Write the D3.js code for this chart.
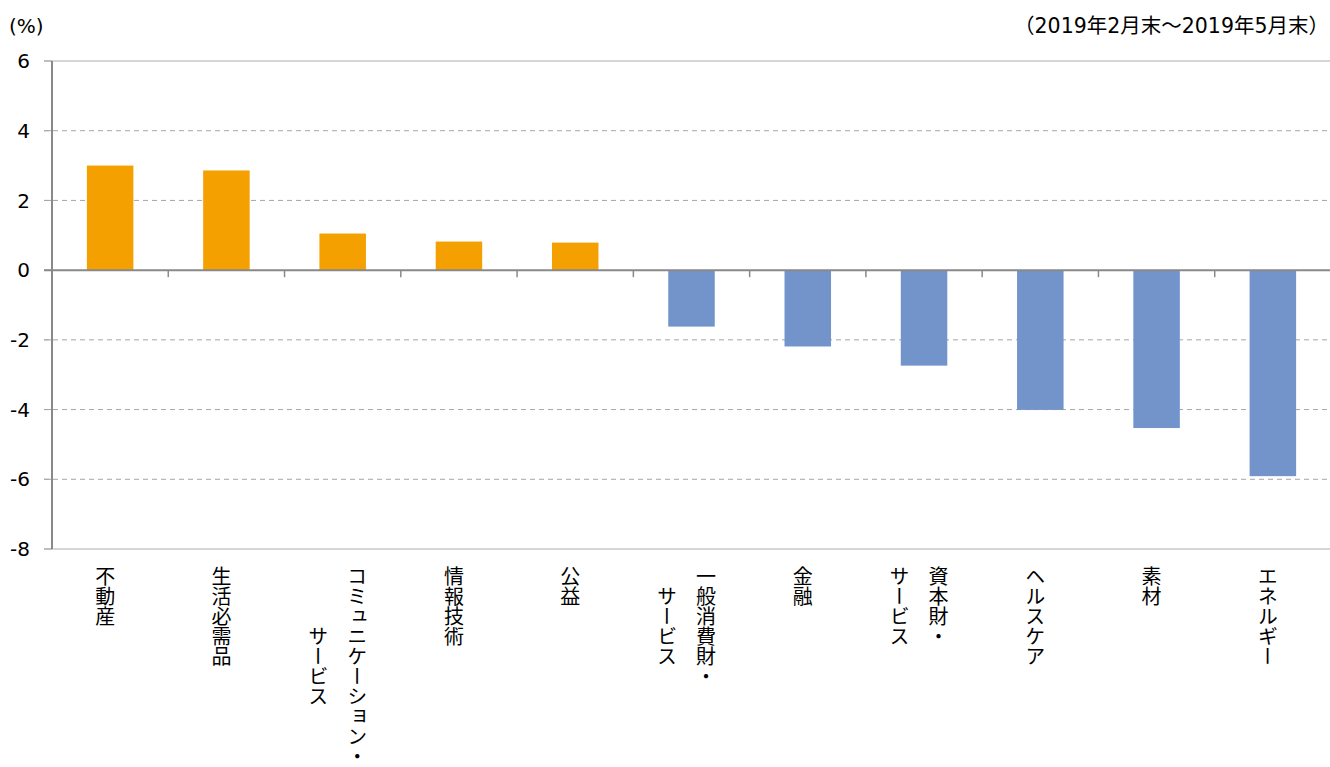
<!DOCTYPE html>
<html><head><meta charset="utf-8">
<script src="https://cdn.jsdelivr.net/npm/d3@7/dist/d3.min.js"></script>
<style>
html,body{margin:0;padding:0;background:#fff;}
svg{display:block;}
.vt{writing-mode:vertical-rl;font-family:"Noto Sans CJK JP",sans-serif;font-size:20px;fill:#000;}
</style></head>
<body><svg id="c" width="1330" height="767"></svg>
<script>
const categories = [
  ["不動産"],
  ["生活必需品"],
  ["コミュニケーション・","サービス"],
  ["情報技術"],
  ["公益"],
  ["一般消費財・","サービス"],
  ["金融"],
  ["資本財・","サービス"],
  ["ヘルスケア"],
  ["素材"],
  ["エネルギー"]
];
const values = [3.0, 2.86, 1.05, 0.82, 0.79, -1.62, -2.19, -2.74, -4.01, -4.53, -5.91];
const yTicks = [6, 4, 2, 0, -2, -4, -6, -8];
const unitLabel = "(%)";
const periodLabel = "（2019年2月末～2019年5月末）";

(function () {
const svg = d3.select("#c");
const pL = 52, pR = 1331, pT = 61, pB = 549;
const x = d3.scaleBand().domain(d3.range(categories.length)).range([pL, pR]).paddingInner(0.6).paddingOuter(0.3);
const xb = d3.scaleBand().domain(d3.range(categories.length)).range([pL, pR]);
const y = d3.scaleLinear().domain([-8, 6]).range([pB, pT]);

// gridlines
svg.append("g").selectAll("line").data(yTicks).join("line")
  .attr("x1", pL - 8).attr("x2", pR)
  .attr("y1", d => y(d)).attr("y2", d => y(d))
  .attr("stroke", d => (d === 6 || d === -8) ? "#c8c8c8" : (d === 0 ? "none" : "#a6a6a6"))
  .attr("stroke-width", d => (d === 6 || d === -8) ? 1.5 : 1)
  .attr("stroke-dasharray", d => (d === 6 || d === -8) ? null : "5,4");
svg.append("g").selectAll("line").data(yTicks).join("line")
  .attr("x1", pL - 8).attr("x2", pL)
  .attr("y1", d => y(d)).attr("y2", d => y(d))
  .attr("stroke", "#a6a6a6").attr("stroke-width", 1);

// y tick labels
svg.append("g").selectAll("text").data(yTicks).join("text")
  .attr("x", 30).attr("y", d => y(d)).attr("dy", "0.36em")
  .attr("text-anchor", "end")
  .attr("font-family", "DejaVu Sans, Verdana, sans-serif").attr("font-size", 20)
  .text(d => d);

// bars
svg.append("g").selectAll("rect").data(values).join("rect")
  .attr("x", (d, i) => x(i)).attr("width", x.bandwidth())
  .attr("y", d => y(Math.max(0, d))).attr("height", d => Math.abs(y(d) - y(0)))
  .attr("fill", d => d >= 0 ? "#f4a000" : "#7294cb");

// y axis line
svg.append("line").attr("x1", pL).attr("x2", pL).attr("y1", pT).attr("y2", pB)
  .attr("stroke", "#898989").attr("stroke-width", 2);
// zero line
svg.append("line").attr("x1", pL - 8).attr("x2", pR).attr("y1", y(0)).attr("y2", y(0))
  .attr("stroke", "#898989").attr("stroke-width", 2);
// category ticks
svg.append("g").selectAll("line").data(d3.range(1, categories.length)).join("line")
  .attr("x1", i => xb(i)).attr("x2", i => xb(i))
  .attr("y1", y(0)).attr("y2", y(0) + 7)
  .attr("stroke", "#898989").attr("stroke-width", 1.5);

// category labels (vertical)
const adv = 20, labelTop = 566, colGap = 39;
const lg = svg.append("g");
categories.forEach((lines, i) => {
  const cx = xb(i) + xb.bandwidth() / 2 - 5;
  const n = lines.length;
  const maxLen = d3.max(lines, l => l.length);
  lines.forEach((line, j) => {
    const colX = cx + ((n - 1) / 2 - j) * colGap;
    lg.append("text").attr("class", "vt")
      .attr("x", colX).attr("y", labelTop + maxLen * adv / 2)
      .attr("text-anchor", "middle")
      .text(line);
  });
});

// header texts
svg.append("text").attr("x", 9).attr("y", 33)
  .attr("font-family", "DejaVu Sans, Verdana, sans-serif").attr("font-size", 20)
  .text(unitLabel);
svg.append("text").attr("x", 1329).attr("y", 33).attr("text-anchor", "end")
  .attr("font-family", "DejaVu Sans, Verdana, 'Noto Sans CJK JP', sans-serif").attr("font-size", 20.5)
  .text(periodLabel);
})();
</script></body></html>
